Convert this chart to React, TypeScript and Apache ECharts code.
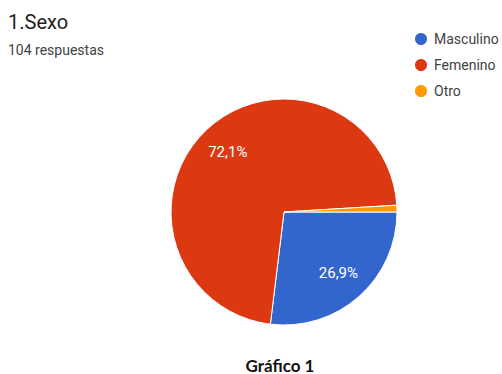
import React, { useEffect, useRef } from "react";
import * as echarts from "echarts";

const categories = ["Masculino", "Femenino", "Otro"];
const counts = [28, 75, 1];
const colors = ["#3366CC", "#DC3912", "#FF9900"];
const titleText = "1.Sexo";
const subtitleText = "104 respuestas";
const captionText = "Gráfico 1";

export default function App() {
  const ref = useRef<HTMLDivElement>(null);
  useEffect(() => {
    if (!ref.current) return;
    document.body.style.margin = "0";
    const chart = echarts.init(ref.current, null, { renderer: "svg" });
    const data = categories.map((name, i) => ({
      name,
      value: counts[i],
      itemStyle: { color: colors[i] },
    }));
    const fmt = (p: any) =>
      p.percent > 5 ? p.percent.toFixed(1).replace(".", ",") + "%" : "";
    chart.setOption({
      animation: false,
      backgroundColor: "#ffffff",
      legend: {
        orient: "vertical",
        left: 408,
        top: 26,
        icon: "circle",
        itemWidth: 14,
        itemHeight: 14,
        itemGap: 10,
        data: categories,
        textStyle: {
          fontFamily: "Roboto",
          fontSize: 14,
          color: "#424242",
          padding: [0, 0, 0, 1],
        },
      },
      graphic: [
        {
          type: "text",
          left: 8,
          top: 12,
          style: {
            text: titleText,
            font: "20px Roboto",
            fill: "#212121",
          },
        },
        {
          type: "text",
          left: 8,
          top: 43,
          style: {
            text: subtitleText,
            font: "14px Roboto",
            fill: "#424242",
          },
        },
        {
          type: "text",
          x: 280,
          y: 365,
          style: {
            text: captionText,
            font: "bold 17px Lato",
            fill: "#111111",
            align: "center",
            verticalAlign: "middle",
          },
        },
      ],
      series: [
        {
          type: "pie",
          center: [284, 212],
          radius: [0, 113],
          startAngle: 0,
          clockwise: true,
          label: { show: false },
          labelLine: { show: false },
          itemStyle: { borderColor: "#ffffff", borderWidth: 1 },
          emphasis: { disabled: true },
          data,
        },
        {
          type: "pie",
          center: [284, 212],
          radius: [45, 113],
          startAngle: 0,
          clockwise: true,
          silent: true,
          legendHoverLink: false,
          itemStyle: { color: "rgba(0,0,0,0)", borderWidth: 0 },
          label: {
            show: true,
            position: "inside",
            formatter: fmt,
            color: "#ffffff",
            fontFamily: "Roboto",
            fontSize: 15,
          },
          labelLine: { show: false },
          emphasis: { disabled: true },
          data: categories.map((name, i) => ({
            name: name + " ",
            value: counts[i],
            itemStyle: { color: "rgba(0,0,0,0)" },
          })),
        },
      ],
    });
    return () => chart.dispose();
  }, []);
  return (
    <div
      ref={ref}
      style={{ width: 502, height: 374, position: "absolute", left: 0, top: 0 }}
    />
  );
}
